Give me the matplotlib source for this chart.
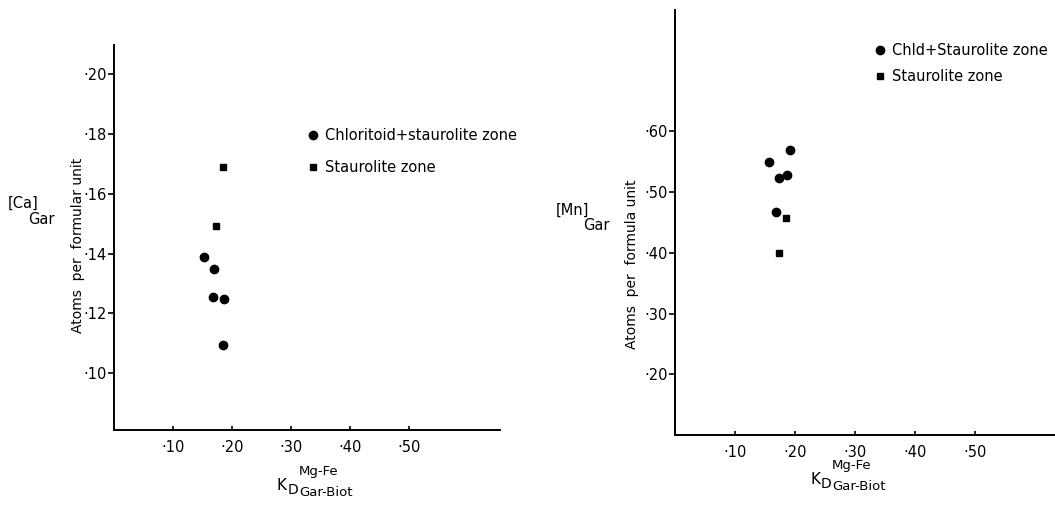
import matplotlib
matplotlib.use('Agg')
import matplotlib.pyplot as plt
from matplotlib.lines import Line2D

# ---- data ----
# left panel: [Ca] in garnet vs KD
ca_circle_kd = [0.153, 0.169, 0.168, 0.187, 0.185]
ca_circle_val = [0.1388, 0.1349, 0.1254, 0.1248, 0.1095]
ca_square_kd = [0.185, 0.173]
ca_square_val = [0.1688, 0.1491]

# right panel: [Mn] in garnet vs KD
mn_circle_kd = [0.156, 0.192, 0.173, 0.187, 0.169]
mn_circle_val = [0.550, 0.570, 0.523, 0.529, 0.467]
mn_square_kd = [0.185, 0.173]
mn_square_val = [0.458, 0.400]

x_ticks = [0.10, 0.20, 0.30, 0.40, 0.50]
ca_ticks = [0.10, 0.12, 0.14, 0.16, 0.18, 0.20]
mn_ticks = [0.20, 0.30, 0.40, 0.50, 0.60]

left_legend = ['Chloritoid+staurolite zone', 'Staurolite zone']
right_legend = ['Chld+Staurolite zone', 'Staurolite zone']

plt.rcParams['font.family'] = ['DejaVu Sans']

W, H = 1055, 509
fig = plt.figure(figsize=(W / 100, H / 100), dpi=100)


def px_axes(x0, y0, x1, y1):
    # axes from pixel box (top-left origin)
    return fig.add_axes([x0 / W, 1 - y1 / H, (x1 - x0) / W, (y1 - y0) / H])


def dot_label(v):
    return '\u00b7' + f'{v:.2f}'[2:]


def style(ax, yticks):
    for s in ['top', 'right']:
        ax.spines[s].set_visible(False)
    for s in ['left', 'bottom']:
        ax.spines[s].set_linewidth(1.4)
    ax.set_xticks(x_ticks)
    ax.set_xticklabels([dot_label(v) for v in x_ticks], fontsize=10.5)
    ax.set_yticks(yticks)
    ax.set_yticklabels([dot_label(v) for v in yticks], fontsize=10.5)
    ax.tick_params(axis='y', direction='out', length=4, width=1.2, pad=1)
    ax.tick_params(axis='x', direction='in', length=3, width=1.2, pad=7)


def kd_label(xc, yc):
    fig.text(xc / W, 1 - yc / H, 'K', fontsize=11, ha='right', va='center')
    fig.text((xc + 1) / W, 1 - (yc + 4) / H, 'D', fontsize=10, ha='left', va='center')
    fig.text((xc + 12) / W, 1 - (yc - 14) / H, 'Mg-Fe', fontsize=9.5, ha='left', va='center')
    fig.text((xc + 12) / W, 1 - (yc + 7) / H, 'Gar-Biot', fontsize=9.5, ha='left', va='center')


def legend(ax, labels, x, y, spacing):
    handles = [Line2D([], [], ls='none', marker='o', color='black', markersize=6),
               Line2D([], [], ls='none', marker='s', color='black', markersize=4.5)]
    ax.legend(handles, labels, loc='upper left', bbox_to_anchor=(x / W, 1 - y / H),
              bbox_transform=fig.transFigure, frameon=False, fontsize=10.5,
              handlelength=0.8, handletextpad=0.45, borderpad=0, borderaxespad=0,
              labelspacing=spacing)


# left panel
ax1 = px_axes(114, 45, 500, 430)
ax1.plot(ca_circle_kd, ca_circle_val, 'o', color='black', markersize=6)
ax1.plot(ca_square_kd, ca_square_val, 's', color='black', markersize=4.5)
ax1.set_xlim(0, 0.654)
ax1.set_ylim(0.081, 0.2097)
style(ax1, ca_ticks)
legend(ax1, left_legend, 307, 128, 1.15)
fig.text(78 / W, 1 - 245 / H, 'Atoms  per  formular unit', rotation=90,
         fontsize=10, ha='center', va='center')
fig.text(8 / W, 1 - 203 / H, '[Ca]', fontsize=10.5, ha='left', va='center')
fig.text(28 / W, 1 - 220 / H, 'Gar', fontsize=10.5, ha='left', va='center')
kd_label(287, 486)

# right panel
ax2 = px_axes(675, 10, 1055, 435)
ax2.plot(mn_circle_kd, mn_circle_val, 'o', color='black', markersize=6)
ax2.plot(mn_square_kd, mn_square_val, 's', color='black', markersize=4.5)
ax2.set_xlim(0, 0.633)
ax2.set_ylim(0.10, 0.80)
style(ax2, mn_ticks)
legend(ax2, right_legend, 874, 43, 0.75)
fig.text(632 / W, 1 - 264 / H, 'Atoms  per  formula unit', rotation=90,
         fontsize=10, ha='center', va='center')
fig.text(556 / W, 1 - 210 / H, '[Mn]', fontsize=10.5, ha='left', va='center')
fig.text(583 / W, 1 - 226 / H, 'Gar', fontsize=10.5, ha='left', va='center')
kd_label(820, 480)

fig.savefig('out.png', dpi=100)
